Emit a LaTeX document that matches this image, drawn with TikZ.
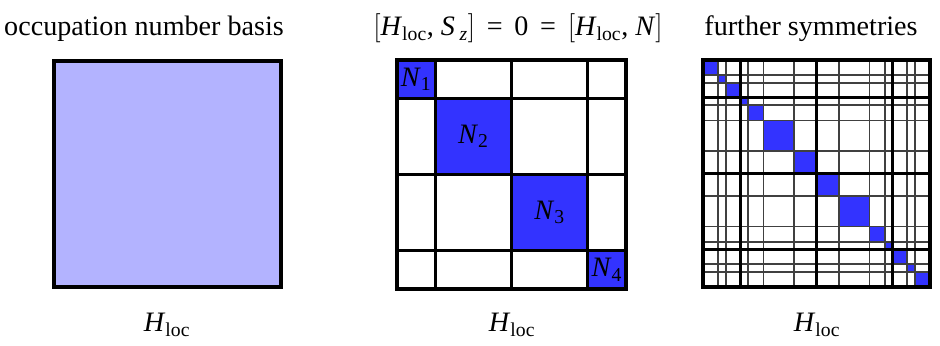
\documentclass[tikz,border=0pt]{standalone}
\usepackage{fontspec}
\setmainfont{Liberation Serif}
\definecolor{paleblue}{HTML}{B3B3FF}
\definecolor{blockblue}{HTML}{3333FF}
\newcommand{\hloc}{\textit{H}\textsubscript{loc}}
\newcommand{\nblk}[1]{\textit{N}\textsubscript{#1}}
\begin{document}
\begin{tikzpicture}[
  x=0.03cm, y=-0.03cm,
  every node/.style={font=\fontsize{24}{28}\selectfont, inner sep=0pt},
  heavy/.style={line width=2.6pt},
  light/.style={line width=1.6pt, black!75},
  block/.style={fill=blockblue}
]
  \useasboundingbox (0,0) rectangle (940,346);

  % titles
  \node[anchor=base] (t1) at (144,36) {occupation number basis};
  \node[anchor=base] (t2) at (518,36) {$\Bigl[$\hloc, \textit{S}\,\textsubscript{\textit{z}}$\Bigr]$ \,=\, 0 \,=\, $\Bigl[$\hloc, \textit{N}$\Bigr]$};
  \node[anchor=base] (t3) at (811,36) {further symmetries};

  % full matrix
  \filldraw[heavy, fill=paleblue] (54,61) rectangle (281,287);

  % N blocks
  \begin{scope}[shift={(397,60)}, x=1.145cm, y=-1.145cm]
    \fill[block] (0,0) rectangle (1,1);
    \fill[block] (1,1) rectangle (3,3);
    \fill[block] (3,3) rectangle (5,5);
    \fill[block] (5,5) rectangle (6,6);
    \foreach \k in {1,3,5} {
      \draw[heavy] (\k,0) -- (\k,6);
      \draw[heavy] (0,\k) -- (6,\k);
    }
    \draw[heavy] (0,0) rectangle (6,6);
    \node (n1) at (0.5,0.5) {\nblk{1}};
    \node (n2) at (2,2) {\nblk{2}};
    \node (n3) at (4,4) {\nblk{3}};
    \node (n4) at (5.5,5.5) {\nblk{4}};
  \end{scope}

  % further symmetries
  \begin{scope}[shift={(703,60)}, x=0.227cm, y=-0.227cm]
    \foreach \a/\b in {0/2,2/3,3/5,5/6,6/8,8/12,12/15,15/18,18/22,22/24,24/25,25/27,27/28,28/30}
      \filldraw[block, draw=blue!50!black, line width=0.8pt] (\a,\a) rectangle (\b,\b);
    \foreach \k in {2,3,6,8,12,18,22,24,27,28} {
      \draw[light] (\k,0) -- (\k,30);
      \draw[light] (0,\k) -- (30,\k);
    }
    \foreach \k in {5,15,25} {
      \draw[heavy] (\k,0) -- (\k,30);
      \draw[heavy] (0,\k) -- (30,\k);
    }
    \draw[heavy] (0,0) rectangle (30,30);
  \end{scope}

  % labels
  \node[anchor=base] (h1) at (167,332) {\hloc};
  \node[anchor=base] (h2) at (512,332) {\hloc};
  \node[anchor=base] (h3) at (817,332) {\hloc};
\end{tikzpicture}
\end{document}
